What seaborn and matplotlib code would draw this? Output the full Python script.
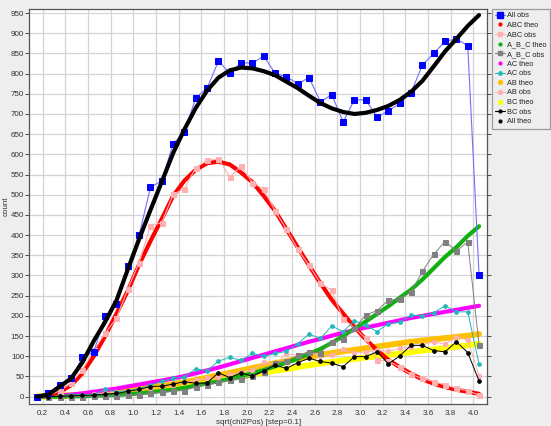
import numpy as np
import pandas as pd
import matplotlib
matplotlib.use("Agg")
import matplotlib.pyplot as plt
from matplotlib.lines import Line2D
import seaborn as sns

# ---------------- data ----------------
x_vals = [0.15, 0.25, 0.35, 0.45, 0.55, 0.65, 0.75, 0.85, 0.95, 1.05,
          1.15, 1.25, 1.35, 1.45, 1.55, 1.65, 1.75, 1.85, 1.95, 2.05,
          2.15, 2.25, 2.35, 2.45, 2.55, 2.65, 2.75, 2.85, 2.95, 3.05,
          3.15, 3.25, 3.35, 3.45, 3.55, 3.65, 3.75, 3.85, 3.95, 4.05]

all_obs = [0, 10, 30, 45, 97, 111, 199, 229, 324, 400,
           518, 535, 626, 655, 740, 764, 831, 801, 827, 826,
           843, 801, 792, 775, 790, 730, 748, 680, 735, 735,
           692, 708, 726, 753, 821, 850, 880, 886, 869, 302]

all_theo = [0, 5, 25, 45, 85, 138, 185, 238, 315, 390,
            462, 532, 603, 662, 715, 758, 790, 808, 815, 813,
            806, 796, 780, 764, 745, 727, 714, 705, 700, 703,
            710, 720, 735, 755, 782, 818, 855, 886, 918, 945]

abc_theo = [1, 3, 12, 28, 58, 100, 150, 205, 262, 327,
            385, 440, 497, 535, 562, 578, 582, 575, 555, 531,
            497, 460, 415, 370, 325, 281, 240, 206, 172, 142,
            115, 91, 73, 57, 43, 32, 24, 17, 12, 7]

abc_obs = [0, 4, 14, 34, 66, 115, 157, 194, 266, 332,
           423, 431, 501, 515, 567, 585, 589, 544, 571, 530,
           514, 460, 415, 365, 325, 281, 263, 192, 171, 144,
           91, 88, 73, 55, 45, 37, 29, 21, 14, 4]

a_b_c_theo = [0, 0, 0, 1, 1, 2, 3, 4, 6, 8,
              11, 14, 17, 22, 27, 33, 38, 44, 51, 58,
              66, 75, 84, 94, 106, 118, 133, 150, 168, 186,
              205, 224, 245, 265, 290, 318, 346, 370, 398, 422]

a_b_c_obs = [0, 0, 0, 0, 0, 1, 1, 2, 3, 5,
             8, 11, 14, 15, 25, 30, 35, 40, 43, 50,
             62, 84, 88, 102, 111, 109, 136, 142, 169, 202,
             213, 239, 242, 259, 310, 353, 384, 361, 383, 128]

ac_theo = [0, 1, 3, 5, 8, 12, 16, 20, 25, 30,
           35, 40, 45, 51, 58, 65, 72, 80, 88, 96,
           104, 112, 120, 128, 136, 143, 151, 158, 165, 171,
           177, 183, 189, 195, 200, 205, 210, 215, 220, 225]

ac_obs = [0, 0, 1, 3, 5, 4, 19, 12, 15, 20,
          28, 38, 45, 49, 69, 64, 88, 97, 90, 107,
          100, 107, 112, 131, 155, 144, 175, 161, 188, 177,
          161, 181, 184, 202, 200, 208, 225, 210, 210, 80]

ab_theo = [0, 1, 2, 3, 5, 7, 10, 13, 16, 19,
           23, 27, 31, 36, 41, 47, 53, 59, 65, 71,
           77, 83, 88, 94, 99, 103, 108, 112, 116, 120,
           124, 128, 132, 136, 139, 142, 145, 148, 151, 155]

ab_obs = [0, 0, 1, 2, 4, 6, 9, 12, 15, 18,
          22, 26, 30, 35, 40, 45, 48, 55, 60, 66,
          85, 80, 105, 103, 111, 100, 104, 117, 108, 110,
          115, 112, 120, 124, 129, 136, 130, 148, 140, 52]

bc_theo = [0, 1, 2, 3, 4, 6, 8, 11, 13, 16,
           19, 23, 26, 30, 34, 38, 42, 46, 50, 55,
           59, 64, 68, 73, 78, 82, 86, 90, 93, 97,
           100, 103, 107, 110, 114, 117, 120, 124, 127, 131]

bc_obs = [0, 0, 1, 2, 3, 4, 6, 8, 13, 18,
          25, 26, 31, 37, 33, 34, 59, 47, 59, 51,
          64, 78, 70, 84, 95, 87, 83, 74, 99, 99,
          111, 81, 101, 127, 127, 114, 111, 136, 109, 39]

x_ticks = [0.2, 0.4, 0.6, 0.8, 1.0, 1.2, 1.4, 1.6, 1.8, 2.0,
           2.2, 2.4, 2.6, 2.8, 3.0, 3.2, 3.4, 3.6, 3.8, 4.0]
y_ticks = list(range(0, 951, 50))

legend_labels = ["All obs", "ABC theo", "ABC obs", "A_B_C theo", "A_B_C obs",
                 "AC theo", "AC obs", "AB theo", "AB obs", "BC theo",
                 "BC obs", "All theo"]

# ---------------- styling ----------------
sns.set_theme(style="white")
plt.rcParams['font.family'] = ['Liberation Sans', 'DejaVu Sans']

BG = "#eeeeee"
TXT = "#333333"
FS = 5.8
fig = plt.figure(figsize=(5.51, 4.26), dpi=100, facecolor=BG)
ax = fig.add_axes([29.3 / 551, 1 - 404.3 / 426, (487 - 29.3) / 551, (404.3 - 9) / 426])
ax.set_facecolor("white")

C_BLUE = "#0000ff"
C_BLUE_L = "#6f6fff"
C_RED = "#ff0000"
C_PINK = "#ffb0b0"
C_GREEN = "#10b010"
C_GRAY = "#808080"
C_MAG = "#ff00ff"
C_CYAN = "#20b8b8"
C_ORANGE = "#ffc000"
C_YELLOW = "#ffff00"
C_BLACK = "#000000"


def theo(y, color, lw=3.0, z=3):
    sns.lineplot(x=x_vals, y=y, ax=ax, color=color, lw=lw, estimator=None,
                 sort=False, zorder=z, legend=False)


def obs(y, color, marker, ms, lc, lw=0.8, z=4):
    sns.lineplot(x=x_vals, y=y, ax=ax, color=lc, lw=lw, estimator=None,
                 sort=False, zorder=z, legend=False,
                 marker=marker, markersize=ms, markerfacecolor=color,
                 markeredgecolor=color)


# theory curves
theo(bc_theo, C_YELLOW, lw=4.2, z=2)
theo(ab_theo, C_ORANGE, lw=4.2, z=2.1)
theo(ac_theo, C_MAG, lw=3.0, z=2.2)
theo(a_b_c_theo, C_GREEN, lw=3.0, z=2.3)
theo(abc_theo, C_RED, lw=3.0, z=2.4)

# observed
obs(bc_obs, C_BLACK, "o", 2.6, C_BLACK, lw=0.7, z=4.5)
obs(ab_obs, C_PINK, "o", 3.2, C_PINK, lw=0.7, z=4.1)
obs(ac_obs, C_CYAN, "o", 2.6, C_CYAN, lw=0.7, z=4.2)
obs(a_b_c_obs, C_GRAY, "s", 3.6, C_GRAY, lw=0.7, z=4.3)
obs(abc_obs, C_PINK, "s", 3.6, C_PINK, lw=0.8, z=4.0)
obs(all_obs, C_BLUE, "s", 5.0, C_BLUE_L, lw=0.8, z=4.6)

theo(all_theo, C_BLACK, lw=3.0, z=5)

# axes
ax.set_xlim(0.081, 4.12)
ax.set_ylim(-19, 960)
ax.set_xticks(x_ticks)
ax.set_xticklabels([f"{t:.1f}" for t in x_ticks])
ax.set_yticks(y_ticks)
ax.grid(True, color="#d4d4d4", lw=0.9)
ax.set_axisbelow(True)
ax.tick_params(axis="both", which="both", labelsize=FS, colors=TXT,
               length=2.7, width=0.6, direction="out")
ax.tick_params(axis="x", pad=1.5)
ax.tick_params(axis="y", pad=1.0, right=True, left=True)
for s in ax.spines.values():
    s.set_color("#555555")
    s.set_linewidth(0.9)

ax.set_xlabel("sqrt(chi2Pos) [step=0.1]", fontsize=FS, color=TXT)
ax.xaxis.set_label_coords(0.5, -0.036)
ax.set_ylabel("count", fontsize=FS, color=TXT)
ax.yaxis.set_label_coords(-0.043, 0.5)

# legend
handles = [
    Line2D([], [], color=C_BLUE_L, lw=0.8, marker="s", ms=4.0, mfc=C_BLUE, mec=C_BLUE),
    Line2D([], [], color=C_RED, lw=0, marker="o", ms=2.0),
    Line2D([], [], color=C_PINK, lw=0.8, marker="s", ms=3.2),
    Line2D([], [], color=C_GREEN, lw=0, marker="o", ms=2.0),
    Line2D([], [], color=C_GRAY, lw=0.8, marker="s", ms=3.2),
    Line2D([], [], color=C_MAG, lw=0, marker="o", ms=2.0),
    Line2D([], [], color=C_CYAN, lw=0.8, marker="o", ms=2.4),
    Line2D([], [], color=C_ORANGE, lw=0, marker="o", ms=2.8),
    Line2D([], [], color=C_PINK, lw=0.8, marker="o", ms=2.8),
    Line2D([], [], color=C_YELLOW, lw=0, marker="o", ms=2.8),
    Line2D([], [], color=C_BLACK, lw=0.8, marker="o", ms=2.0),
    Line2D([], [], color=C_BLACK, lw=0, marker="o", ms=2.0),
]
leg = fig.legend(handles, legend_labels, loc="upper left",
                 bbox_to_anchor=(491.5 / 551, 1 - 9 / 426),
                 prop={"family": "Liberation Sans", "size": 5.3},
                 frameon=True, fancybox=False,
                 handlelength=1.35, handletextpad=0.4, labelspacing=0.34,
                 borderpad=0.42, borderaxespad=0)
leg.get_frame().set_facecolor(BG)
leg.get_frame().set_edgecolor("#888888")
leg.get_frame().set_linewidth(0.9)
for t in leg.get_texts():
    t.set_color("#222222")

fig.savefig("out.png", dpi=100, facecolor=BG)
